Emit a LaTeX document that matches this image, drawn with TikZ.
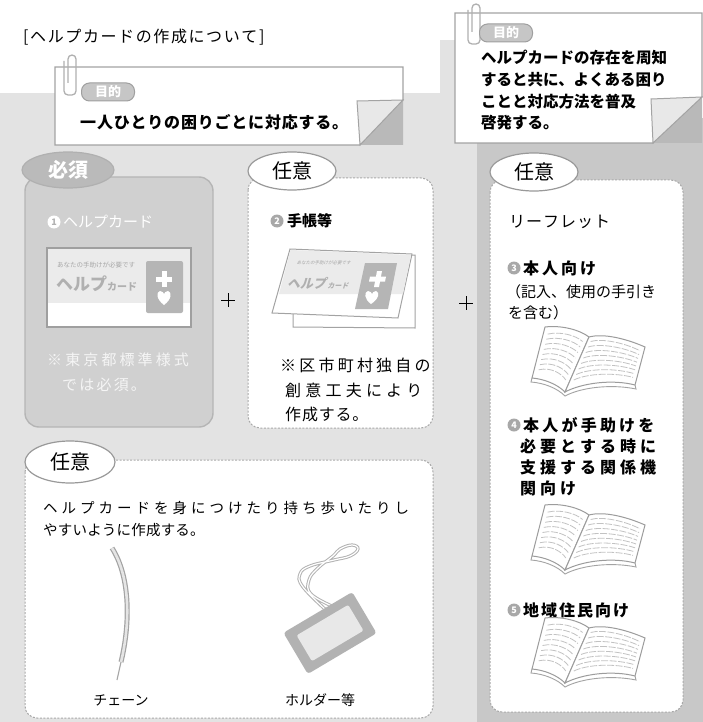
\documentclass[tikz,border=0pt]{standalone}
\usepackage{fontspec}
\setmainfont{Noto Sans CJK JP}
\usetikzlibrary{shapes.geometric,calc}

\newcommand\fsz[1]{\fontsize{#1}{#1}\selectfont}
% letter tracking: \trk{kern}{characters}
\def\trkloop#1{\ifx\relax#1\else#1\kern\trkamt\expandafter\trkloop\fi}
\newcommand\trk[2]{\def\trkamt{#1}\trkloop#2\relax}

\tikzset{
  note/.style={draw=gray!72, line width=1.4pt, fill=white},
  pill/.style={draw=gray!75, line width=1pt, fill=gray!45, rounded corners=8pt,
    minimum width=53pt, minimum height=18pt, inner sep=0, text=white, font=\fsz{13}\bfseries},
  optbox/.style={draw=gray!68, line width=1pt, dash pattern=on 2pt off 1.5pt,
    fill=white, rounded corners=12pt},
  mustbox/.style={draw=gray!58, line width=1.4pt, fill=gray!37, rounded corners=14pt},
  tagoval/.style={ellipse, draw=gray!80, line width=1.2pt, fill=white,
    minimum width=88pt, minimum height=38pt, inner sep=0, font=\fsz{20}},
  mustoval/.style={ellipse, draw=gray!62, line width=1.2pt, fill=gray!54,
    minimum width=92pt, minimum height=36pt, inner sep=0, text=white, font=\fsz{20}\bfseries},
  numdot/.style={circle, fill=gray!68, text=white, inner sep=0, minimum size=13pt,
    font=\fsz{9}\bfseries},
  body/.style={anchor=west, inner sep=0, font=\fsz{15}},
  plussign/.pic={\draw[black, line width=0.8pt] (-7,0) -- (7,0) (0,-7) -- (0,7);},
  paperclip/.pic={\draw[gray!62, line width=1.3pt, rounded corners=4pt]
    (6,30) -- (6,2) -- (14,2) -- (14,42) -- (2,42) -- (2,8);},
  openbook/.pic={
    \draw[gray!72, line width=0.9pt, fill=white] (0,51) -- (-1,55)
      .. controls (12,56) and (25,61) .. (33,69)
      .. controls (50,60) and (80,57) .. (104,62) -- (103,58);
    \draw[gray!78, line width=1pt, fill=white] (13,0) .. controls (30,-2) and (48,3) .. (57,10)
      -- (33,65) .. controls (25,57) and (12,52) .. (0,51) -- cycle;
    \draw[gray!78, line width=1pt, fill=white] (57,10) .. controls (72,6) and (95,12) .. (113,20)
      -- (103,58) .. controls (80,52) and (50,56) .. (33,65) -- cycle;
    \foreach \t in {0.1,0.2,0.3,0.4,0.5,0.6,0.7,0.8}{
      \draw[gray!48, line width=0.8pt, dash pattern=on 7pt off 1.5pt]
        ({13-13*\t+4},{51*\t+2}) .. controls ({30-13*\t},{51*\t-1}) and ({46-20*\t},{55*\t+3}) .. ({57-24*\t-4},{10+55*\t-1});
      \draw[gray!48, line width=0.8pt, dash pattern=on 7pt off 1.5pt]
        ({57-24*\t+4},{10+55*\t-1}) .. controls ({72-20*\t},{6+50*\t}) and ({95-14*\t},{12+42*\t}) .. ({113-10*\t-4},{20+38*\t});
    }
  }
}

\begin{document}
\begin{tikzpicture}[x=1pt,y=-1pt]
\useasboundingbox (0,0) rectangle (703,722);
\fill[white] (0,0) rectangle (703,722);

% textured backdrop panels
\fill[gray!22] (0,93) rectangle (480,722);
\fill[gray!22] (440,40) rectangle (480,93);
\fill[gray!43] (477,118) rectangle (703,722);

% heading
\node[body, font=\fsz{16}] (title) at (23,37) {\trk{1.6pt}{[ヘルプカードの作成について]}};

% ---- purpose note (left) ----
\path[note] (55,67) -- (403,67) -- (403,100) -- (360,145) -- (55,145) -- cycle;
\fill[gray!55] (403,100) -- (403,145) -- (360,145) -- cycle;
\draw[gray!72, line width=1pt, fill=gray!18] (403,100) -- (360,145) -- (357,101) -- cycle;
\pic at (62,53) {paperclip};
\node[pill] (aimA) at (108,92) {目的};
\node[body, font=\fsz{16}\bfseries] (aimAtext) at (80,122) {\trk{0.8pt}{一人ひとりの困りごとに対応する。}};

% ---- purpose note (right) ----
\path[note] (455,13) -- (702,13) -- (702,97) -- (653,143) -- (455,143) -- cycle;
\fill[gray!55] (702,97) -- (702,143) -- (653,143) -- cycle;
\draw[gray!72, line width=1pt, fill=gray!18] (702,97) -- (653,143) -- (651,99) -- cycle;
\pic at (466,2) {paperclip};
\node[pill] (aimB) at (506,33) {目的};
\node[body, font=\fsz{15.5}\bfseries] (aimBa) at (481,58) {ヘルプカードの存在を周知};
\node[body, font=\fsz{15.5}\bfseries] (aimBb) at (481,80) {すると共に、よくある困り};
\node[body, font=\fsz{15.5}\bfseries] (aimBc) at (481,102) {ことと対応方法を普及};
\node[body, font=\fsz{15.5}\bfseries] (aimBd) at (481,123) {啓発する。};

% ---- required: help card ----
\path[mustbox] (25,177) rectangle (213,427);
\node[mustoval] (must) at (68,170) {必須};
\node[numdot, fill=white, text=gray!60] (num1) at (54,222) {1};
\node[body, text=white, font=\fsz{15}] (cardlbl) at (63,222) {ヘルプカード};
% the card
\draw[gray!75, line width=1.2pt, fill=white] (47,248) rectangle (191,327);
\fill[gray!16] (48,249) rectangle (190,303);
\node[anchor=west, inner sep=0, font=\fsz{6.5}, text=gray!70] (cardsub) at (57,265) {あなたの手助けが必要です};
\node[anchor=west, inner sep=0, text=gray!62] (cardname) at (56,284) {{\fsz{17}\bfseries ヘルプ}{\fsz{10}\bfseries カード}};
\fill[gray!58, rounded corners=2pt] (146,261) rectangle (183,313);
\fill[white] (161.5,271) rectangle (166.5,287);
\fill[white] (156,276.5) rectangle (172,281.5);
\fill[white] (164,305) .. controls (156,299) and (156,292) .. (160,291)
  .. controls (162,291) and (164,293) .. (164,294)
  .. controls (164,293) and (166,291) .. (168,291)
  .. controls (172,292) and (172,299) .. (164,305);
\node[body, text=gray!8, font=\fsz{15}] (mustA) at (47,360) {\trk{3.1pt}{※東京都標準様式}};
\node[body, text=gray!8, font=\fsz{15}] (mustB) at (62,385) {\trk{2.2pt}{では必須。}};

\pic at (228,300) {plussign};

% ---- optional: notebook ----
\path[optbox] (248,178) rectangle (433,428);
\node[tagoval] (optA) at (292,171) {任意};
\node[numdot] (num2) at (277,221) {2};
\node[body, font=\fsz{15}\bfseries] (techo) at (287,221) {手帳等};
% notebook: back page, then front cover
\draw[gray!72, line width=1pt, fill=white] (293,313) -- (293,327) -- (415,328) -- (415,255) -- (411,255);
\draw[gray!72, line width=1pt, fill=white] (290,249) -- (412,254) -- (398,318) -- (272,313) -- cycle;
\fill[gray!16] (290.5,250) -- (411,255) -- (403,294) -- (279,294) -- cycle;
\fill[gray!58] (365,263) -- (397,263) -- (388,309) -- (355,309) -- cycle;
\fill[white] (377,271) -- (382,271) -- (379,287) -- (374,287) -- cycle;
\fill[white] (370,276.5) -- (386,276.5) -- (385,281.5) -- (369,281.5) -- cycle;
\fill[white] (371,304) .. controls (364,299) and (364,292) .. (368,291)
  .. controls (370,291) and (372,293) .. (372,294)
  .. controls (372,293) and (374,291) .. (376,291)
  .. controls (380,292) and (379,299) .. (371,304);
\node[anchor=west, inner sep=0, font=\fsz{4.5}, text=gray!70, xslant=0.28] (bookletsub) at (297,263) {あなたの手助けが必要です};
\node[anchor=west, inner sep=0, text=gray!62, xslant=0.28] (bookletname) at (288,283) {{\fsz{13}\bfseries ヘルプ}\kern1.5pt{\fsz{7}\bfseries カード}};
\node[body, font=\fsz{16}] (optAa) at (280,365) {\trk{3.2pt}{※区市町村独自の}};
\node[body, font=\fsz{16}] (optAb) at (285,390) {\trk{4.2pt}{創意工夫により}};
\node[body, font=\fsz{16}] (optAc) at (285,414) {\trk{0.8pt}{作成する。}};

\pic at (466,303) {plussign};

% ---- optional: leaflets ----
\path[optbox] (490,180) rectangle (683,712);
\node[tagoval] (optB) at (534,172) {任意};
\node[body, font=\fsz{16}] (leaflet) at (509,222) {\trk{1pt}{リーフレット}};
\node[numdot] (num3) at (514,268) {3};
\node[body, font=\fsz{16}\bfseries] (selfA) at (523,268) {\trk{3pt}{本人向け}};
\node[body, font=\fsz{15}] (selfB) at (506,292) {（記入、使用の手引き};
\node[body, font=\fsz{15}] (selfC) at (508,313) {を含む）};
\pic at (532,327) {openbook};
\node[numdot] (num4) at (514,425) {4};
\node[body, font=\fsz{16}\bfseries] (supA) at (523,425) {\trk{3.2pt}{本人が手助けを}};
\node[body, font=\fsz{16}\bfseries] (supB) at (520,446) {\trk{4pt}{必要とする時に}};
\node[body, font=\fsz{16}\bfseries] (supC) at (520,467) {\trk{4pt}{支援する関係機}};
\node[body, font=\fsz{16}\bfseries] (supD) at (520,488) {\trk{4pt}{関向け}};
\pic at (532,505) {openbook};
\node[numdot] (num5) at (514,610) {5};
\node[body, font=\fsz{16}\bfseries] (areaA) at (523,610) {\trk{2pt}{地域住民向け}};
\pic at (532,618) {openbook};

% ---- optional: carrying aids ----
\path[optbox] (25,460) rectangle (433,718);
\node[tagoval, minimum width=90pt, minimum height=42pt] (optC) at (70,462) {任意};
\node[body, font=\fsz{14.5}] (carryA) at (43,508) {\trk{4pt}{ヘルプカードを身につけたり持ち歩いたりし}};
\node[body, font=\fsz{14.5}] (carryB) at (43,530) {\trk{0.2pt}{やすいように作成する。}};

% chain
\draw[gray!72, line width=1.2pt, double=gray!20, double distance=2.6pt]
  (112,548) .. controls (131,578) and (130,625) .. (121,662);
\draw[gray!70, line width=1.1pt] (121,662) -- (117,680);
\node[font=\fsz{14}, inner sep=0] (chainlbl) at (121,700) {チェーン};

% holder with strap
\draw[gray!60, line width=1pt, double=white, double distance=1.2pt]
  plot[smooth, tension=0.7] coordinates {(327,611) (303,587) (300,574) (310,566) (334,560) (350,556) (358,549) (352,545) (340,549) (333,556) (318,568) (309,580) (311,594) (334,607)};
\fill[gray!60, rounded corners=3pt] (283.4,632.8) -- (352.2,592) -- (376.6,633.2) -- (307.8,674) -- cycle;
\fill[gray!18, rounded corners=2pt] (296.6,635.4) -- (348.2,604.8) -- (363.5,630.6) -- (311.9,661.2) -- cycle;
\node[font=\fsz{14}, inner sep=0] (holderlbl) at (320,700) {ホルダー等};
\end{tikzpicture}
\end{document}
